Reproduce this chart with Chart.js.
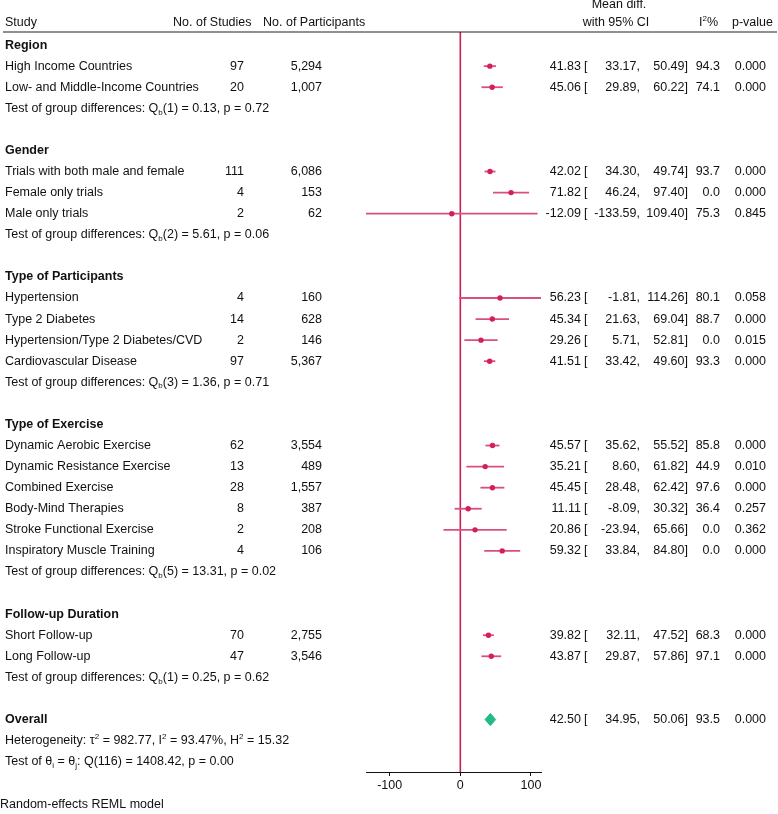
<!DOCTYPE html>
<html>
<head>
<meta charset="utf-8">
<script src="https://cdn.jsdelivr.net/npm/chart.js@4.4.1/dist/chart.umd.min.js"></script>
<style>
  html, body { margin: 0; padding: 0; background: #fff; }
  #wrap { width: 778px; height: 814px; position: relative; }
</style>
</head>
<body>
<div id="wrap"><canvas id="forest"></canvas></div>
<script>
// subgroup blocks
const groupTitles = ["Region", "Gender", "Type of Participants", "Type of Exercise", "Follow-up Duration"];
const groupSizes = [2, 3, 4, 6, 2];
const groupTestDf = [1, 2, 3, 5, 1];
const groupTestQ = [0.13, 5.61, 1.36, 13.31, 0.25];
const groupTestP = [0.72, 0.06, 0.71, 0.02, 0.62];

// one entry per subgroup row
const studyLabels = [
  "High Income Countries", "Low- and Middle-Income Countries",
  "Trials with both male and female", "Female only trials", "Male only trials",
  "Hypertension", "Type 2 Diabetes", "Hypertension/Type 2 Diabetes/CVD", "Cardiovascular Disease",
  "Dynamic Aerobic Exercise", "Dynamic Resistance Exercise", "Combined Exercise",
  "Body-Mind Therapies", "Stroke Functional Exercise", "Inspiratory Muscle Training",
  "Short Follow-up", "Long Follow-up"
];
const nStudies = [97, 20, 111, 4, 2, 4, 14, 2, 97, 62, 13, 28, 8, 2, 4, 70, 47];
const nParticipants = [5294, 1007, 6086, 153, 62, 160, 628, 146, 5367, 3554, 489, 1557, 387, 208, 106, 2755, 3546];
const meanDiff = [41.83, 45.06, 42.02, 71.82, -12.09, 56.23, 45.34, 29.26, 41.51, 45.57, 35.21, 45.45, 11.11, 20.86, 59.32, 39.82, 43.87];
const ciLower = [33.17, 29.89, 34.30, 46.24, -133.59, -1.81, 21.63, 5.71, 33.42, 35.62, 8.60, 28.48, -8.09, -23.94, 33.84, 32.11, 29.87];
const ciUpper = [50.49, 60.22, 49.74, 97.40, 109.40, 114.26, 69.04, 52.81, 49.60, 55.52, 61.82, 62.42, 30.32, 65.66, 84.80, 47.52, 57.86];
const iSquared = [94.3, 74.1, 93.7, 0.0, 75.3, 80.1, 88.7, 0.0, 93.3, 85.8, 44.9, 97.6, 36.4, 0.0, 0.0, 68.3, 97.1];
const pValues = [0.000, 0.000, 0.000, 0.000, 0.845, 0.058, 0.000, 0.015, 0.000, 0.000, 0.010, 0.000, 0.257, 0.362, 0.000, 0.000, 0.000];

// overall pooled estimate
const overallMean = 42.50;
const overallLower = 34.95;
const overallUpper = 50.06;
const overallI2 = 93.5;
const overallP = 0.000;
const hetTau2 = 982.77;
const hetI2 = 93.47;
const hetH2 = 15.32;
const qDf = 116;
const qStat = 1408.42;
const qP = 0.00;

const xTicks = [-100, 0, 100];

const FONT = "'Liberation Sans', Arial, sans-serif";
const FONT_SIZE = 12.5;
const dotColor = "#d41f5c";
const ciColor = "#d9507f";
const nullColor = "#d01d4f";
const diamondColor = "#22bb86";

// lay out the table rows (one unit per text line)
const rows = [];
const studyRows = [];
let r = 0;
let s = 0;
groupTitles.forEach((title, g) => {
  rows.push({ kind: "title", text: title, row: r++ });
  for (let k = 0; k < groupSizes[g]; k++) {
    studyRows.push(r);
    rows.push({ kind: "study", idx: s++, row: r++ });
  }
  rows.push({ kind: "test", group: g, row: r++ });
  r++; // empty line between blocks
});
const overallRow = r;

const yMin = -0.62;
const yMax = overallRow + 2.49;
const diamondHalf = 0.29;

const nullLine = {
  data: [{ x: 0, y: yMin }, { x: 0, y: yMax }],
  borderColor: nullColor,
  borderWidth: 1.6,
  pointRadius: 0,
  order: 3
};

const ciLines = studyRows.map((row, i) => ({
  data: [{ x: ciLower[i], y: row }, { x: ciUpper[i], y: row }],
  borderColor: ciColor,
  borderWidth: 1.8,
  pointRadius: 0,
  order: 2
}));

const points = {
  data: meanDiff.map((m, i) => ({ x: m, y: studyRows[i] })),
  showLine: false,
  pointRadius: 2.7,
  pointBackgroundColor: dotColor,
  pointBorderWidth: 0,
  order: 0
};

const diamond = {
  data: [
    { x: overallLower, y: overallRow },
    { x: overallMean, y: overallRow - diamondHalf },
    { x: overallUpper, y: overallRow },
    { x: overallMean, y: overallRow + diamondHalf },
    { x: overallLower, y: overallRow }
  ],
  fill: "shape",
  backgroundColor: diamondColor,
  borderColor: diamondColor,
  borderWidth: 1,
  pointRadius: 0,
  tension: 0,
  order: 0
};

// split text on _{sub} and ^{sup}
function richParts(str) {
  const parts = [];
  const re = /([_^])\{([^}]*)\}/g;
  let last = 0, m;
  while ((m = re.exec(str))) {
    if (m.index > last) parts.push({ t: str.slice(last, m.index), k: 0 });
    parts.push({ t: m[2], k: m[1] === "_" ? 1 : -1 });
    last = re.lastIndex;
  }
  if (last < str.length) parts.push({ t: str.slice(last), k: 0 });
  return parts;
}

function drawText(ctx, str, x, y, align, bold) {
  const parts = richParts(str);
  const fontFor = (k) => (bold ? "bold " : "") + (k ? 8 : FONT_SIZE) + "px " + FONT;
  let w = 0;
  parts.forEach((p) => {
    ctx.font = fontFor(p.k);
    p.w = ctx.measureText(p.t).width;
    w += p.w;
  });
  let cx = align === "right" ? x - w : align === "center" ? x - w / 2 : x;
  ctx.textAlign = "left";
  ctx.textBaseline = "middle";
  parts.forEach((p) => {
    ctx.font = fontFor(p.k);
    const dy = p.k === 1 ? 4 : p.k === -1 ? -4 : 0;
    ctx.fillText(p.t, cx, y + dy);
    cx += p.w;
  });
}

const fmt = (v, d) => v.toFixed(d);

const tablePlugin = {
  id: "forestTable",
  afterDraw(chart) {
    const ctx = chart.ctx;
    const y = chart.scales.y;
    ctx.save();
    ctx.fillStyle = "#111";

    // header
    drawText(ctx, "Study", 5, 23, "left");
    drawText(ctx, "No. of Studies", 173, 23, "left");
    drawText(ctx, "No. of Participants", 263, 23, "left");
    drawText(ctx, "Mean diff.", 619, 5, "center");
    drawText(ctx, "with 95% CI", 616, 23, "center");
    drawText(ctx, "I^{2}%", 718, 23, "right");
    drawText(ctx, "p-value", 773, 23, "right");
    ctx.strokeStyle = "#222";
    ctx.lineWidth = 1.2;
    ctx.beginPath();
    ctx.moveTo(3, chart.chartArea.top);
    ctx.lineTo(777, chart.chartArea.top);
    ctx.stroke();

    const resultCols = (py, m, lo, hi, i2, p) => {
      drawText(ctx, fmt(m, 2), 581, py, "right");
      drawText(ctx, "[", 584, py, "left");
      drawText(ctx, fmt(lo, 2) + ",", 640, py, "right");
      drawText(ctx, fmt(hi, 2) + "]", 688, py, "right");
      drawText(ctx, fmt(i2, 1), 720, py, "right");
      drawText(ctx, fmt(p, 3), 766, py, "right");
    };

    rows.forEach((row) => {
      const py = y.getPixelForValue(row.row);
      if (row.kind === "title") {
        drawText(ctx, row.text, 5, py, "left", true);
      } else if (row.kind === "study") {
        const i = row.idx;
        drawText(ctx, studyLabels[i], 5, py, "left");
        drawText(ctx, String(nStudies[i]), 244, py, "right");
        drawText(ctx, nParticipants[i].toLocaleString("en-US"), 322, py, "right");
        resultCols(py, meanDiff[i], ciLower[i], ciUpper[i], iSquared[i], pValues[i]);
      } else {
        const g = row.group;
        drawText(ctx, "Test of group differences: Q_{b}(" + groupTestDf[g] + ") = " +
          fmt(groupTestQ[g], 2) + ", p = " + fmt(groupTestP[g], 2), 5, py, "left");
      }
    });

    const oy = y.getPixelForValue(overallRow);
    drawText(ctx, "Overall", 5, oy, "left", true);
    resultCols(oy, overallMean, overallLower, overallUpper, overallI2, overallP);
    drawText(ctx, "Heterogeneity: \u03c4^{2} = " + fmt(hetTau2, 2) + ", I^{2} = " + fmt(hetI2, 2) +
      "%, H^{2} = " + fmt(hetH2, 2), 5, y.getPixelForValue(overallRow + 1), "left");
    drawText(ctx, "Test of \u03b8_{i} = \u03b8_{j}: Q(" + qDf + ") = " + fmt(qStat, 2) + ", p = " + fmt(qP, 2),
      5, y.getPixelForValue(overallRow + 2), "left");
    drawText(ctx, "Random-effects REML model", 0, 805, "left");
    ctx.restore();
  }
};

const canvas = document.getElementById("forest");
canvas.style.width = "778px";
canvas.style.height = "814px";

new Chart(canvas, {
  type: "line",
  data: { datasets: [nullLine, ...ciLines, points, diamond] },
  options: {
    responsive: false,
    animation: false,
    events: [],
    layout: { padding: { left: 366, right: 237, top: 32, bottom: 0 } },
    scales: {
      x: {
        type: "linear",
        min: Math.min(...ciLower),
        max: Math.max(...ciUpper),
        afterBuildTicks: (scale) => { scale.ticks = xTicks.map((v) => ({ value: v })); },
        afterFit: (scale) => { scale.height = 42; },
        border: { color: "#111", width: 1 },
        grid: { drawOnChartArea: false, drawTicks: true, tickLength: 4, color: "#111" },
        ticks: { color: "#111", font: { family: FONT, size: FONT_SIZE }, padding: 2, maxRotation: 0 }
      },
      y: { type: "linear", reverse: true, min: yMin, max: yMax, display: false }
    },
    plugins: {
      legend: { display: false },
      tooltip: { enabled: false }
    }
  },
  plugins: [tablePlugin]
});
</script>
</body>
</html>
